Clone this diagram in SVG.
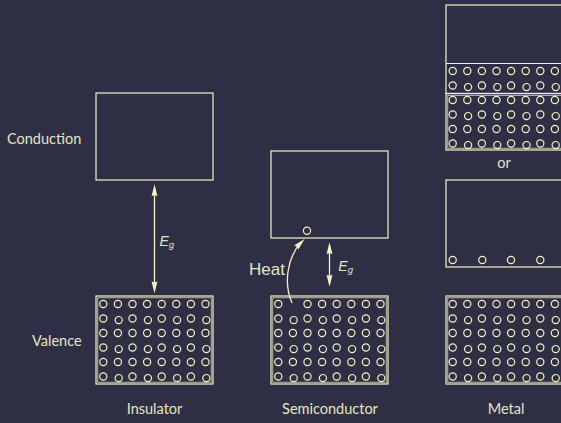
<svg xmlns="http://www.w3.org/2000/svg" xmlns:xlink="http://www.w3.org/1999/xlink" width="561" height="423" viewBox="0 0 561 423">
<style>
.box{fill:none;stroke:#f5f2c6;stroke-width:1.2}
.inner{fill:none;stroke:#f5f2c6;stroke-width:0.7}
.e{fill:none;stroke:#f5f2c6;stroke-width:1.2}
.ln{fill:none;stroke:#f5f2c6;stroke-width:1.3}
.lbl{font-family:Lato,"DejaVu Sans",sans-serif;font-size:14.5px;fill:#e6e4c6}
.heat{font-family:"Liberation Sans",Arial,sans-serif;font-size:17px;fill:#e6e4c6}
.eg{font-family:"Liberation Sans",Arial,sans-serif;font-style:italic;fill:#e6e4c6}
</style>
<defs>
<marker id="ah" viewBox="-9 -4 14 8" refX="0" refY="0" markerWidth="14" markerHeight="8" markerUnits="userSpaceOnUse" orient="auto-start-reverse">
<path d="M4,0 L-8,-3 Q-6,0 -8,3 Z" fill="#f5f2c6"/>
</marker>
<g id="row" class="e">
<circle cx="0" cy="0" r="3.6"/><circle cx="14.6" cy="0" r="3.6"/><circle cx="29.2" cy="0" r="3.6"/><circle cx="43.8" cy="0" r="3.6"/><circle cx="58.4" cy="0" r="3.6"/><circle cx="73" cy="0" r="3.6"/><circle cx="87.6" cy="0" r="3.6"/><circle cx="102.2" cy="0" r="3.6"/>
</g>
<g id="rowj" class="e">
<circle cx="0" cy="0" r="3.6"/><circle cx="15.4" cy="1.6" r="3.6"/><circle cx="29.2" cy="0" r="3.6"/><circle cx="44.6" cy="1.6" r="3.6"/><circle cx="58.4" cy="0" r="3.6"/><circle cx="73.8" cy="1.6" r="3.6"/><circle cx="87.6" cy="0" r="3.6"/><circle cx="103" cy="1.6" r="3.6"/>
</g>
<g id="band6">
<use xlink:href="#row" href="#row" y="0"/>
<use xlink:href="#rowj" href="#rowj" y="14.5"/>
<use xlink:href="#row" href="#row" y="29"/>
<use xlink:href="#rowj" href="#rowj" y="43.5"/>
<use xlink:href="#row" href="#row" y="58"/>
<use xlink:href="#rowj" href="#rowj" y="72.5"/>
</g>
</defs>
<rect width="561" height="423" fill="#2e2f44"/>

<g id="labels">
<text class="lbl" x="7" y="144">Conduction</text>
<text class="lbl" x="32" y="346">Valence</text>
</g>

<g id="insulator">
<rect id="ins-cond" class="box" x="96" y="93" width="117" height="87"/>
<g id="ins-val">
<rect class="box" x="96" y="296" width="117" height="88"/>
<rect class="inner" x="97.8" y="297.8" width="113.4" height="84.4"/>
<use xlink:href="#band6" href="#band6" x="103.3" y="304"/>
</g>
<text class="eg" x="159.5" y="245.7" font-size="14">E<tspan font-size="9.5" dy="2.5">g</tspan></text>
<text class="lbl" x="154.5" y="414" text-anchor="middle">Insulator</text>
</g>

<g id="semiconductor">
<rect id="semi-cond" class="box" x="271" y="151" width="117" height="87"/>
<circle class="e" cx="307" cy="230.7" r="3.6"/>
<g id="semi-val">
<rect class="box" x="271" y="296" width="117" height="88"/>
<rect class="inner" x="272.8" y="297.8" width="113.4" height="84.4"/>
<g class="e">
<circle cx="278.3" cy="304" r="3.6"/><circle cx="307.5" cy="304" r="3.6"/><circle cx="322.1" cy="304" r="3.6"/><circle cx="336.7" cy="304" r="3.6"/><circle cx="351.3" cy="304" r="3.6"/><circle cx="365.9" cy="304" r="3.6"/><circle cx="380.5" cy="304" r="3.6"/>
</g>
<use xlink:href="#rowj" href="#rowj" x="278.3" y="318.5"/>
<use xlink:href="#row" href="#row" x="278.3" y="333"/>
<use xlink:href="#rowj" href="#rowj" x="278.3" y="347.5"/>
<use xlink:href="#row" href="#row" x="278.3" y="362"/>
<use xlink:href="#rowj" href="#rowj" x="278.3" y="376.5"/>
</g>
<text class="heat" x="249" y="275">Heat</text>
<text class="eg" x="338.3" y="270.5" font-size="14">E<tspan font-size="9.5" dy="2.5">g</tspan></text>
<text class="lbl" x="330" y="414" text-anchor="middle">Semiconductor</text>
</g>

<g id="metal">
<g id="metal-a">
<rect class="box" x="446" y="5" width="120" height="88.5"/>
<line class="box" x1="446" y1="63.5" x2="566" y2="63.5"/>
<rect class="box" x="446" y="93.5" width="120" height="56.5"/>
<rect class="inner" x="447.8" y="95.3" width="118" height="52.9"/>
<use xlink:href="#band6" href="#band6" x="452.7" y="71"/>
</g>
<text class="lbl" x="504" y="168" text-anchor="middle">or</text>
<g id="metal-b">
<rect class="box" x="446" y="180" width="120" height="87"/>
<g class="e">
<circle cx="452.7" cy="260" r="3.6"/><circle cx="482.3" cy="260" r="3.6"/><circle cx="511" cy="260" r="3.6"/><circle cx="540.3" cy="260" r="3.6"/>
</g>
</g>
<g id="metal-val">
<rect class="box" x="446" y="296" width="120" height="88"/>
<rect class="inner" x="447.8" y="297.8" width="118" height="84.4"/>
<use xlink:href="#band6" href="#band6" x="452.7" y="304"/>
</g>
<text class="lbl" x="506" y="414" text-anchor="middle">Metal</text>
</g>

<g id="connectors">
<line class="ln" x1="154.5" y1="188.3" x2="154.5" y2="289.3" marker-start="url(#ah)" marker-end="url(#ah)"/>
<line class="ln" x1="329.5" y1="246.3" x2="329.5" y2="282.7" marker-start="url(#ah)" marker-end="url(#ah)"/>
<path class="ln" d="M292,303 C284,285 286,258 301.8,241.8" marker-end="url(#ah)"/>
</g>
</svg>
